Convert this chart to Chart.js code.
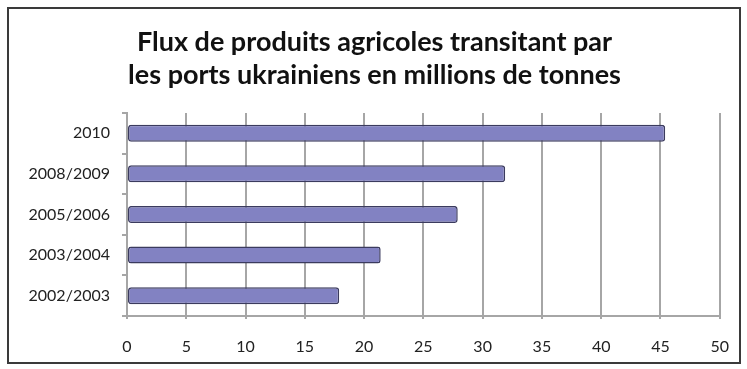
<!DOCTYPE html>
<html>
<head>
<meta charset="utf-8">
<script src="https://cdn.jsdelivr.net/npm/chart.js@4/dist/chart.umd.min.js"></script>
<style>
  html, body { margin: 0; padding: 0; background: #fff; }
  #wrap { width: 747px; height: 369px; }
</style>
</head>
<body>
<div id="wrap"><canvas id="c" width="747" height="369"></canvas></div>
<script>
// Flux de produits agricoles (millions de tonnes), top to bottom
const periods = ['2010', '2008/2009', '2005/2006', '2003/2004', '2002/2003'];
const tonnes = [45.4, 31.9, 27.9, 21.4, 17.9];
const titleLines = ['Flux de produits agricoles transitant par', 'les ports ukrainiens en millions de tonnes'];

// outer frame + white background
const framePlugin = {
    id: 'frame',
    beforeDraw(chart) {
        const ctx = chart.ctx;
        ctx.save();
        ctx.fillStyle = '#fff';
        ctx.fillRect(0, 0, chart.width, chart.height);
        ctx.strokeStyle = '#3a3a3a';
        ctx.lineWidth = 2;
        ctx.strokeRect(8, 8, 732, 355);
        ctx.restore();
    }
};

const gridGray = '#a6a6a6';
const tickFont = { family: 'Lato', size: 16 };

new Chart(document.getElementById('c'), {
    type: 'bar',
    data: {
        labels: periods,
        datasets: [{
            data: tonnes,
            backgroundColor: '#8282c2',
            borderColor: '#3b3b5e',
            borderWidth: 1.5,
            borderRadius: 3,
            borderSkipped: false,
            categoryPercentage: 1,
            barPercentage: 0.42
        }]
    },
    options: {
        indexAxis: 'y',
        responsive: false,
        animation: false,
        layout: { padding: { top: 26, right: 23, bottom: 0, left: 25 } },
        plugins: {
            legend: { display: false },
            tooltip: { enabled: false },
            title: {
                display: true,
                text: titleLines,
                color: '#111',
                font: { family: 'Lato', size: 27, weight: 'bold', lineHeight: 1.22 },
                padding: { top: 0, bottom: 21 }
            }
        },
        scales: {
            x: {
                min: 0, max: 50,
                ticks: { stepSize: 5, color: '#222', font: tickFont, padding: 18 },
                grid: { color: gridGray, lineWidth: 2, tickLength: 3 },
                border: { color: gridGray, width: 2 },
                afterFit(scale) { scale.height = 53; }
            },
            y: {
                ticks: { color: '#222', font: tickFont, padding: 12 },
                grid: { drawOnChartArea: false, color: gridGray, lineWidth: 2, tickLength: 5, offset: true },
                border: { color: gridGray, width: 2 },
                afterFit(scale) { scale.width = 102; }
            }
        }
    },
    plugins: [framePlugin]
});
</script>
</body>
</html>
